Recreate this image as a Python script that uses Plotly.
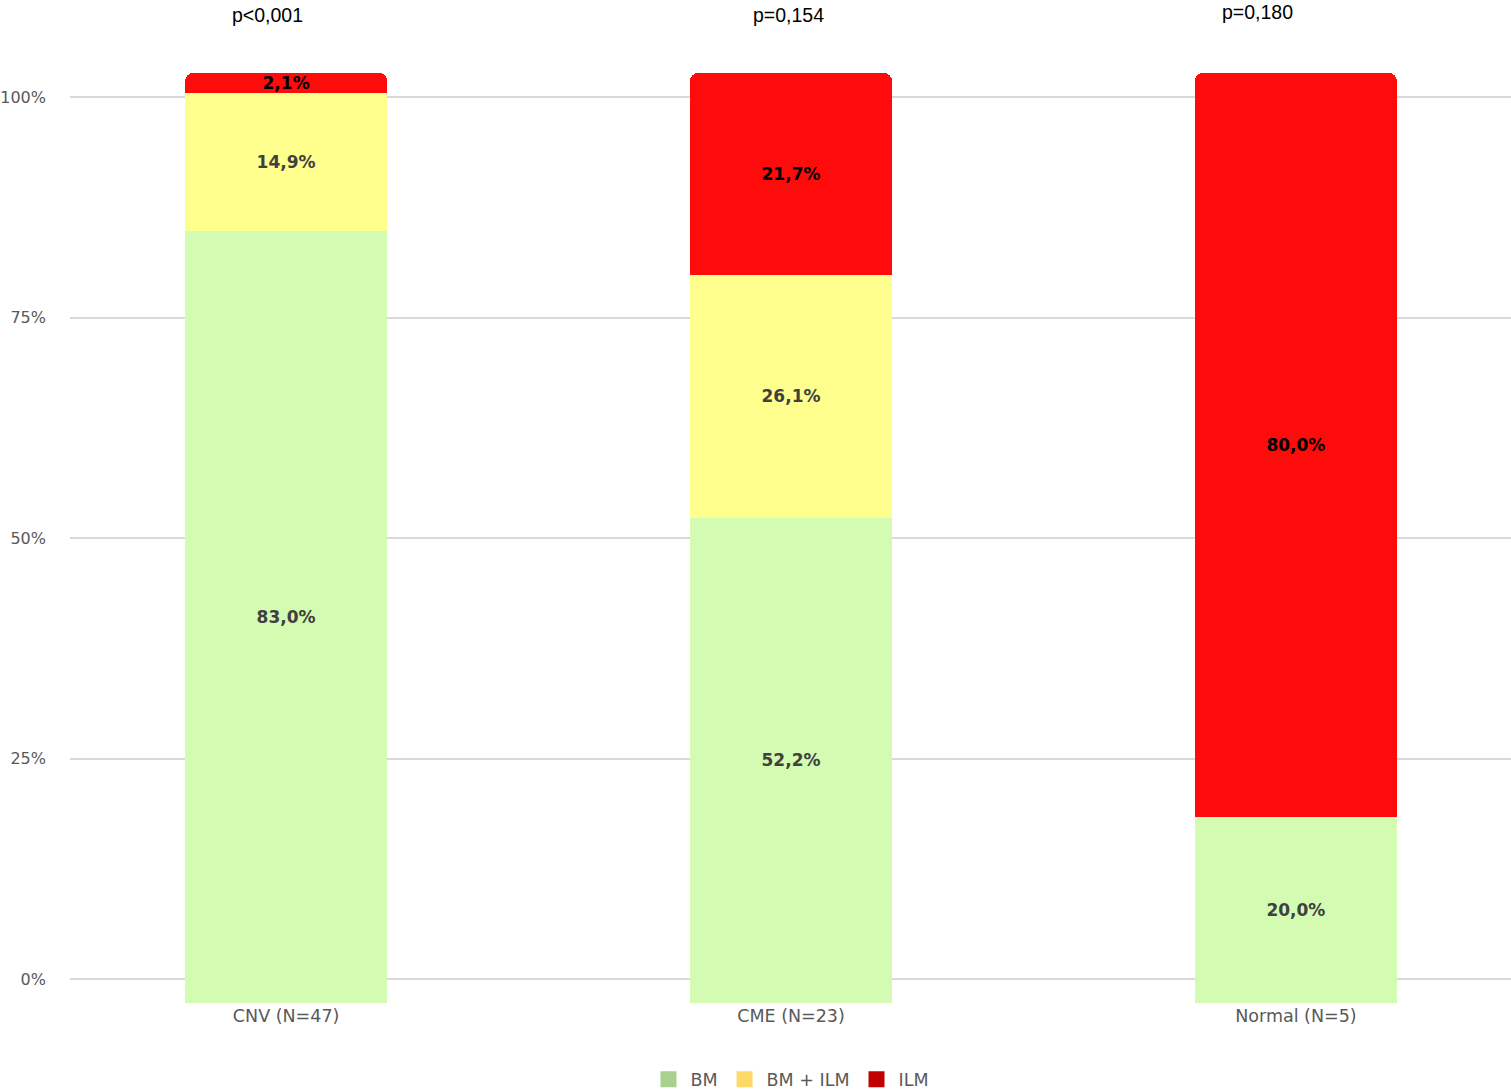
import plotly.graph_objects as go

categories = ["CNV (N=47)", "CME (N=23)", "Normal (N=5)"]
series_names = ["BM", "BM + ILM", "ILM"]
bm = [83.0, 52.2, 20.0]
bm_ilm = [14.9, 26.1, 0.0]
ilm = [2.1, 21.7, 80.0]
p_values = ["p<0,001", "p=0,154", "p=0,180"]
y_ticks = [0, 25, 50, 75, 100]
y_tick_labels = ["0%", "25%", "50%", "75%", "100%"]

bar_colors = ["#d3fcb2", "#ffff8e", "#ff0b0b"]
legend_colors = ["#a9d18e", "#ffd966", "#c00000"]
text_colors = ["#404040", "#404040", "#000000"]

def fmt(v):
    return "" if v == 0 else f"{v:.1f}".replace(".", ",") + "%"

fig = go.Figure()
for name, vals, col, tcol in zip(series_names, [bm, bm_ilm, ilm], bar_colors, text_colors):
    fig.add_trace(go.Bar(
        x=categories, y=vals, name=name, yaxis="y2",
        marker=dict(color=col, line=dict(width=0)),
        text=[fmt(v) for v in vals], textposition="inside",
        insidetextanchor="middle", textangle=0,
        textfont=dict(family="DejaVu Sans", size=17, color=tcol, weight="bold"),
        showlegend=False, hoverinfo="skip",
    ))
for name, col in zip(series_names, legend_colors):
    fig.add_trace(go.Scatter(x=[None], y=[None], name=name, yaxis="y", mode="markers",
                             marker=dict(color=col, symbol="square", size=20),
                             showlegend=True, hoverinfo="skip"))

px_per = 882 / 100.0
pad = 24 / px_per
for i, p in enumerate(p_values):
    offs = [-0.037, -0.004, -0.077][i]
    ys = [1.062, 1.062, 1.066][i]
    fig.add_annotation(x=i + offs, y=ys, xref="x", yref="paper", text=p,
                       xanchor="center", yanchor="middle",
                       showarrow=False, font=dict(family="Liberation Sans", size=19.5, color="#000000"))

fig.update_layout(
    width=1511, height=1091,
    margin=dict(l=70, r=0, t=73, b=88, autoexpand=False),
    paper_bgcolor="white", plot_bgcolor="white",
    barmode="stack", bargap=0.6, barcornerradius=8,
    uniformtext=dict(mode="show", minsize=17),
    font=dict(family="DejaVu Sans", color="#595959", size=17),
    xaxis=dict(range=[-0.428, 2.426], showgrid=False, showline=False, ticks="",
               automargin=False, tickfont=dict(size=17.5, color="#595959")),
    yaxis=dict(range=[-pad, 100 + pad], tickvals=y_ticks, ticktext=y_tick_labels,
               showgrid=True, gridcolor="#d9d9d9", gridwidth=2, zeroline=False,
               showline=False, ticks="", ticklabelstandoff=23, automargin=False,
               tickfont=dict(size=16, color="#595959")),
    yaxis2=dict(range=[0, 100], overlaying="y", visible=False, fixedrange=True),
    legend=dict(orientation="h", x=0.5, xanchor="center", y=-0.082, yanchor="middle",
                font=dict(size=17.5, color="#595959"), traceorder="normal",
                itemwidth=34),
)

fig.write_html("out.html", config={"displayModeBar": False},
               post_script="document.body.style.margin='0';document.body.style.overflow='hidden';")
